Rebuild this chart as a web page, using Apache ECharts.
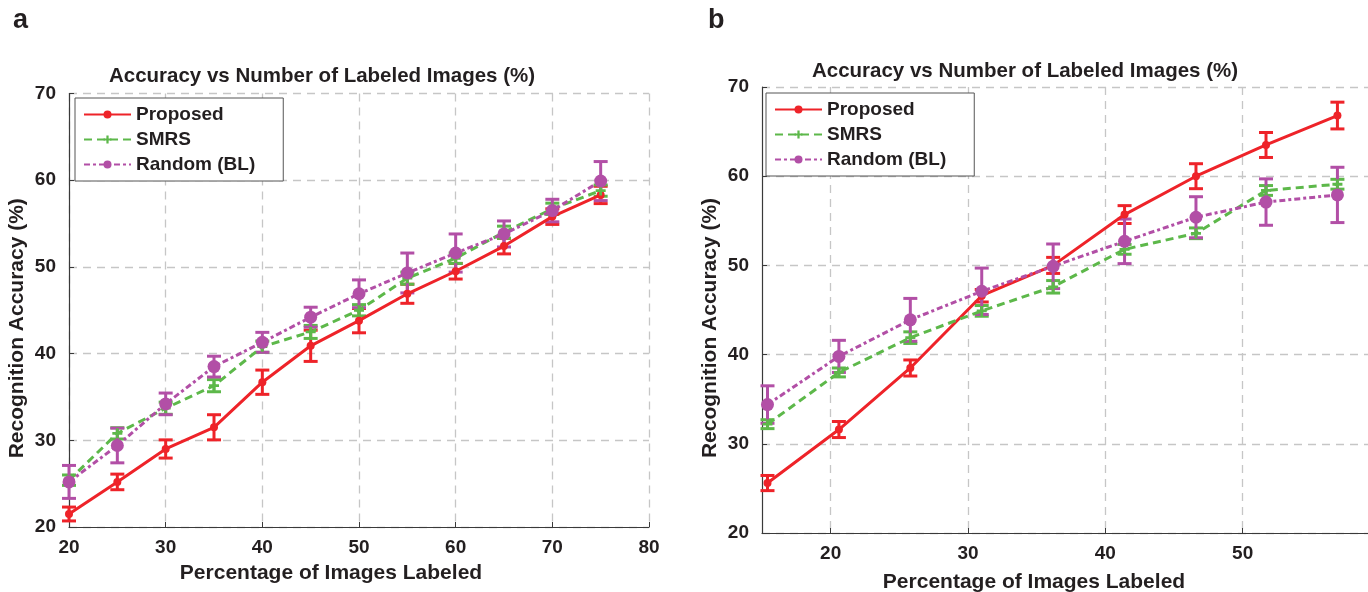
<!DOCTYPE html>
<html><head><meta charset="utf-8">
<script src="https://cdn.jsdelivr.net/npm/echarts@6/dist/echarts.min.js"></script>
<style>html,body{margin:0;padding:0;background:#fff}#c{width:1368px;height:592px}</style>
</head><body><div id="c"></div>
<script>
// ---- Panel a data ----
const xA = [20, 25, 30, 35, 40, 45, 50, 55, 60, 65, 70, 75];
const propA = [21.5, 25.2, 29.0, 31.5, 36.7, 40.9, 43.8, 46.9, 49.5, 52.4, 55.8, 58.3];
const propErrA = [0.8, 0.9, 1.05, 1.45, 1.4, 1.8, 1.4, 1.1, 0.9, 0.9, 0.9, 1.0];
const smrsA = [25.4, 30.8, 33.7, 36.3, 40.8, 42.5, 45.0, 48.7, 51.0, 54.0, 56.7, 58.8];
const smrsErrA = [0.6, 0.65, 0.7, 0.7, 0.65, 0.75, 0.65, 0.7, 0.6, 0.7, 0.65, 0.65];
const randA = [25.2, 29.4, 34.2, 38.5, 41.3, 44.2, 46.9, 49.3, 51.6, 53.8, 56.5, 59.9];
const randErrA = [1.9, 2.0, 1.25, 1.2, 1.15, 1.15, 1.6, 2.3, 2.2, 1.5, 1.3, 2.25];
const xTicksA = [20, 30, 40, 50, 60, 70, 80];
// ---- Panel b data ----
const xB = [15.4, 20.6, 25.8, 31.0, 36.2, 41.4, 46.6, 51.7, 56.9];
const propB = [25.6, 31.6, 38.5, 46.6, 50.0, 55.7, 60.0, 63.5, 66.8];
const propErrB = [0.85, 0.9, 0.9, 0.7, 0.9, 1.0, 1.4, 1.4, 1.5];
const smrsB = [32.2, 38.0, 41.9, 44.9, 47.6, 51.8, 53.6, 58.4, 59.1];
const smrsErrB = [0.5, 0.5, 0.65, 0.6, 0.7, 0.55, 0.6, 0.55, 0.55];
const randB = [34.4, 39.8, 43.9, 47.1, 49.9, 52.7, 55.4, 57.1, 57.9];
const randErrB = [2.1, 1.8, 2.4, 2.6, 2.5, 2.5, 2.3, 2.6, 3.1];
const xTicksB = [20, 30, 40, 50];
const yTicks = [20, 30, 40, 50, 60, 70];

const names = ['Proposed', 'SMRS', 'Random (BL)'];
const RED = '#ee2329', GREEN = '#5db84a', PURPLE = '#b24fa6';
const TXT = '#231f20';
const FONT = 'Liberation Sans, Arial, Helvetica, sans-serif';
const PLUS = 'path://M-1.4,-5L1.4,-5L1.4,-1.4L5,-1.4L5,1.4L1.4,1.4L1.4,5L-1.4,5L-1.4,1.4L-5,1.4L-5,-1.4L-1.4,-1.4Z';

function pairs(xs, ys) { return xs.map((x, i) => [x, ys[i]]); }
function errData(xs, ys, es) { return xs.map((x, i) => [x, ys[i] - es[i], ys[i] + es[i]]); }

function errSeries(idx, xs, ys, es, color) {
  return {
    type: 'custom', xAxisIndex: idx, yAxisIndex: idx, silent: true, z: 3,
    data: errData(xs, ys, es),
    renderItem: function (params, api) {
      const x = api.value(0);
      const lo = api.coord([x, api.value(1)]);
      const hi = api.coord([x, api.value(2)]);
      const w = 7;
      const st = { stroke: color, lineWidth: 3, fill: null };
      return {
        type: 'group', children: [
          { type: 'line', shape: { x1: lo[0], y1: lo[1], x2: hi[0], y2: hi[1] }, style: st },
          { type: 'line', shape: { x1: lo[0] - w, y1: lo[1], x2: lo[0] + w, y2: lo[1] }, style: st },
          { type: 'line', shape: { x1: hi[0] - w, y1: hi[1], x2: hi[0] + w, y2: hi[1] }, style: st }
        ]
      };
    }
  };
}

function lineSeries(idx, name, xs, ys, color, type, symbol, size) {
  return {
    type: 'line', name: name, xAxisIndex: idx, yAxisIndex: idx, z: 4,
    data: pairs(xs, ys), symbol: symbol, symbolSize: size, showSymbol: true,
    lineStyle: { color: color, width: 3, type: type },
    itemStyle: { color: color, borderWidth: 0 },
    emphasis: { disabled: true }, animation: false
  };
}

const gridLine = { show: true, lineStyle: { color: '#c6c6c6', width: 1.3, type: [8, 6] } };
const axisLine = { show: true, lineStyle: { color: '#3a3a3a', width: 1.2 } };
const lbl = { color: TXT, fontSize: 19, fontWeight: 'bold', fontFamily: FONT };
const nameLbl = { color: TXT, fontSize: 21, fontWeight: 'bold', fontFamily: FONT };

function yAxis(idx, nameGap) {
  return {
    type: 'value', gridIndex: idx, min: 20, max: 70, interval: 10,
    name: 'Recognition Accuracy (%)', nameLocation: 'middle', nameGap: nameGap,
    nameTextStyle: Object.assign({}, nameLbl, { padding: [0, 36, 0, 0] }),
    axisLine: axisLine, axisTick: { show: true, inside: true, length: 5, lineStyle: { color: '#3a3a3a' } },
    axisLabel: Object.assign({}, lbl, { margin: 13 }),
    splitLine: gridLine
  };
}

const legendBase = {
  orient: 'vertical', data: names, itemWidth: 47, itemHeight: 10, itemGap: 6,
  textStyle: { color: TXT, fontSize: 19, fontWeight: 'bold', fontFamily: FONT },
  backgroundColor: '#fff', borderColor: '#555', borderWidth: 1,
  padding: [7, 28, 7, 8], selectedMode: false
};

const option = {
  animation: false,
  textStyle: { fontFamily: FONT },
  title: [
    { text: 'a', left: 13, top: 7, padding: 0, textStyle: { fontSize: 27, fontWeight: 'bold', color: TXT, fontFamily: FONT } },
    { text: 'b', left: 708, top: 7, padding: 0, textStyle: { fontSize: 27, fontWeight: 'bold', color: TXT, fontFamily: FONT } },
    { text: 'Accuracy vs Number of Labeled Images (%)', left: 322, top: 66, padding: 0, textAlign: 'center',
      textStyle: { fontSize: 20.5, fontWeight: 'bold', color: TXT, fontFamily: FONT } },
    { text: 'Accuracy vs Number of Labeled Images (%)', left: 1025, top: 61, padding: 0, textAlign: 'center',
      textStyle: { fontSize: 20.5, fontWeight: 'bold', color: TXT, fontFamily: FONT } }
  ],
  legend: [
    Object.assign({}, legendBase, { left: 75, top: 98 }),
    Object.assign({}, legendBase, { left: 766, top: 93 })
  ],
  grid: [
    { left: 69, top: 93.5, width: 580, height: 433.5, outerBoundsMode: 'none' },
    { left: 762, top: 87, width: 618, height: 446, outerBoundsMode: 'none' }
  ],
  xAxis: [
    {
      type: 'value', gridIndex: 0, min: 20, max: 80, interval: 10,
      name: 'Percentage of Images Labeled', nameLocation: 'middle', nameGap: 36,
      nameTextStyle: Object.assign({}, nameLbl, { padding: [0, 56, 0, 0] }),
      axisLine: axisLine, axisTick: { show: true, inside: true, length: 5, lineStyle: { color: '#3a3a3a' } },
      axisLabel: Object.assign({}, lbl, { margin: 11 }),
      splitLine: gridLine
    },
    {
      type: 'value', gridIndex: 1, min: 15, max: 60,
      name: 'Percentage of Images Labeled', nameLocation: 'middle', nameGap: 39,
      nameTextStyle: Object.assign({}, nameLbl, { padding: [0, 74, 0, 0] }),
      axisLine: axisLine,
      axisTick: { show: true, inside: true, length: 5, customValues: xTicksB, lineStyle: { color: '#3a3a3a' } },
      axisLabel: Object.assign({}, lbl, { margin: 11, customValues: xTicksB }),
      splitLine: gridLine
    }
  ],
  yAxis: [yAxis(0, 41), yAxis(1, 41)],
  series: [
    lineSeries(0, names[0], xA, propA, RED, 'solid', 'circle', 8),
    errSeries(0, xA, propA, propErrA, RED),
    lineSeries(0, names[1], xA, smrsA, GREEN, [8, 5], PLUS, 10),
    errSeries(0, xA, smrsA, smrsErrA, GREEN),
    lineSeries(0, names[2], xA, randA, PURPLE, [6, 3, 3, 3], 'circle', 13),
    errSeries(0, xA, randA, randErrA, PURPLE),
    lineSeries(1, names[0], xB, propB, RED, 'solid', 'circle', 8),
    errSeries(1, xB, propB, propErrB, RED),
    lineSeries(1, names[1], xB, smrsB, GREEN, [8, 5], PLUS, 10),
    errSeries(1, xB, smrsB, smrsErrB, GREEN),
    lineSeries(1, names[2], xB, randB, PURPLE, [6, 3, 3, 3], 'circle', 13),
    errSeries(1, xB, randB, randErrB, PURPLE)
  ]
};
const chart = echarts.init(document.getElementById('c'), null, { renderer: 'canvas' });
chart.setOption(option);
</script>
</body></html>
